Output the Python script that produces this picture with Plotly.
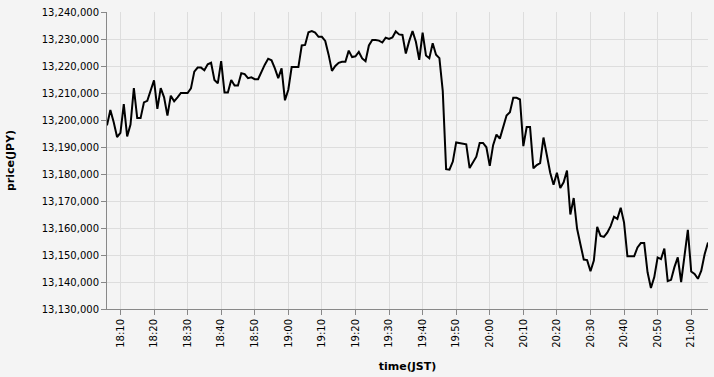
import plotly.graph_objects as go
import pandas as pd

start_time = "2024-01-01 18:06"
prices_k = [
    # 18:06 - 18:37
    13198.0, 13203.7, 13199.2, 13193.7, 13195.2, 13205.9, 13193.9, 13198.3, 13211.8, 13200.7,
    13200.7, 13206.5, 13207.1, 13210.8, 13214.7, 13204.1, 13211.8, 13208.4, 13201.6, 13209.0,
    13206.9, 13208.4, 13210.0, 13210.0, 13210.0, 13211.7, 13217.9, 13219.4, 13219.4, 13218.4,
    13220.6, 13221.2,
    # 18:38 - 19:05
    13214.8, 13213.6, 13221.8, 13210.2, 13210.2, 13214.8, 13212.8, 13212.8, 13217.3, 13217.0,
    13215.5, 13215.8, 13215.1, 13215.1, 13218.1, 13220.5, 13222.7, 13222.1, 13219.1, 13215.5,
    13219.1, 13207.3, 13211.2, 13219.6, 13219.6, 13219.6, 13227.6, 13227.8,
    # 19:06 - 19:35
    13232.5, 13232.9, 13232.4, 13230.8, 13230.8, 13229.3, 13224.2, 13218.2, 13220.0, 13221.2,
    13221.6, 13221.6, 13225.7, 13223.3, 13223.6, 13225.2, 13222.8, 13221.8, 13227.6, 13229.6,
    13229.6, 13229.4, 13228.7, 13230.5, 13230.0, 13230.6, 13232.8, 13231.7, 13231.5, 13224.6,
    # 19:36 - 19:59
    13229.2, 13232.9, 13229.0, 13222.3, 13232.4, 13223.9, 13222.9, 13228.4, 13224.2, 13222.9,
    13210.8, 13181.8, 13181.6, 13184.6, 13191.7, 13191.5, 13191.1, 13191.0, 13182.2, 13184.3,
    13186.4, 13191.5, 13191.5, 13189.9,
    # 20:00 - 20:29
    13183.0, 13190.7, 13194.6, 13193.1, 13197.4, 13201.7, 13202.9, 13208.2, 13208.2, 13207.6,
    13190.3, 13197.4, 13197.4, 13182.1, 13183.3, 13184.0, 13193.5, 13187.0, 13180.5, 13176.0,
    13180.5, 13174.8, 13176.9, 13181.3, 13165.0, 13171.1, 13159.8, 13154.0, 13148.3, 13148.1,
    # 20:30 - 21:05
    13144.0, 13147.9, 13160.4, 13157.1, 13156.7, 13158.3, 13160.7, 13164.2, 13163.4, 13167.5,
    13162.0, 13149.5, 13149.5, 13149.5, 13152.8, 13154.4, 13154.4, 13143.6, 13137.8, 13141.8,
    13149.1, 13148.5, 13152.4, 13140.3, 13140.8, 13145.5, 13149.1, 13140.0, 13149.7, 13159.3,
    13143.9, 13143.0, 13141.2, 13144.2, 13150.3, 13154.6,
]
prices = [round(p * 1000) for p in prices_k]
times = pd.date_range(start=start_time, periods=len(prices), freq="1min")

y_range = [13130000, 13240000]
y_step = 10000

fig = go.Figure(
    go.Scatter(
        x=times, y=prices, mode="lines",
        line=dict(color="black", width=2),
        hoverinfo="skip",
    )
)

bg = "#f4f4f4"
font_family = "DejaVu Sans, sans-serif"
fig.update_layout(
    width=714, height=377,
    margin=dict(l=107, r=6, t=10, b=67),
    paper_bgcolor=bg, plot_bgcolor=bg,
    showlegend=False,
    font=dict(family=font_family, size=10, color="#000"),
)
fig.update_xaxes(
    range=[times[0], times[-1]],
    tickformat="%H:%M", dtick=600000, tick0="2024-01-01 18:00",
    tickangle=-90,
    showgrid=True, gridcolor="#dddddd", gridwidth=1,
    showline=True, linecolor="#888888", linewidth=1,
    ticks="outside", ticklen=5, tickcolor="#888888",
    tickfont=dict(size=10, color="#000"),
    title=dict(text="<b>time(JST)</b>", font=dict(size=11, color="#000"), standoff=15),
    zeroline=False,
)
fig.update_yaxes(
    range=y_range, dtick=y_step, tick0=y_range[0],
    tickformat=",d",
    showgrid=True, gridcolor="#dddddd", gridwidth=1,
    showline=True, linecolor="#888888", linewidth=1,
    ticks="outside", ticklen=5, tickcolor="#888888",
    tickfont=dict(size=10, color="#000"),
    title=dict(text="<b>price(JPY)</b>", font=dict(size=11, color="#000"), standoff=24),
    zeroline=False,
)

fig.write_html("out.html")
